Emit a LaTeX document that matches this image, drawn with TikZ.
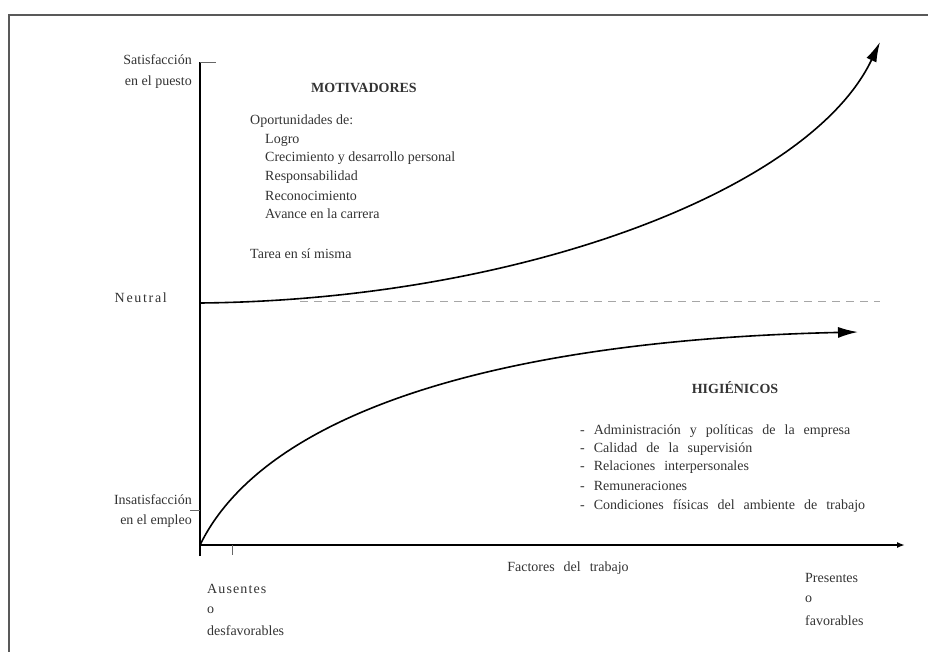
\documentclass[tikz,border=0pt]{standalone}
\usepackage{fontspec}
\setmainfont{Liberation Serif}
\usetikzlibrary{arrows.meta}
\newcommand\widesp{\spaceskip=9pt plus 1pt\relax}
\newcommand\bodyfnt{\fontsize{14}{16}\selectfont}

\begin{document}
\begin{tikzpicture}[x=1pt, y=-1pt, font=\bodyfnt,
  txt/.style={text=black!80, inner sep=0pt},
  wide/.style={font=\bodyfnt\widesp},
  axis/.style={line width=1.8pt},
  curve/.style={line width=1.6pt, -{Latex[length=20pt, width=11pt]}}]
\useasboundingbox (0,0) rectangle (928,652);
\draw[line width=1.3pt, black!65] (9,670) -- (9,15) -- (945,15);

% ejes
\coordinate (o) at (200,545);
\coordinate (yt) at (200,62);
\coordinate (yb) at (200,556);
\coordinate (xe) at (905,545);
\coordinate (neu) at (200,303);
\coordinate (ins) at (200,510);
\draw[axis] (yb) -- (yt);
\draw[axis, -{Latex[length=8pt, width=6pt]}] (o) -- (xe);
\draw[thin, black!60] (yt) -- ++(16,0);
\draw[thin, black!60] (ins) -- ++(-10,0);
\draw[thin, black!60] (232,545) -- ++(0,10);

% etiquetas de los ejes
\node (sat) at (192,60) [txt, anchor=east] {Satisfacción};
\node (sat2) at (192,82) [txt, anchor=east] {en el puesto};
\node (neutral) at (167,298) [txt, anchor=east, font=\bodyfnt\addfontfeatures{LetterSpace=12}] {Neutral};
\node (insat) at (192,500) [txt, anchor=east] {Insatisfacción};
\node (insat2) at (192,521) [txt, anchor=east] {en el empleo};
\node (fac) at (568,568) [txt, wide] {Factores del trabajo};
\node (aus) at (207,589) [txt, anchor=west, font=\bodyfnt\addfontfeatures{LetterSpace=8}] {Ausentes};
\node (aus2) at (207,610) [txt, anchor=west] {o};
\node (aus3) at (207,631) [txt, anchor=west] {desfavorables};
\node (pre) at (805,578) [txt, anchor=west] {Presentes};
\node (pre2) at (805,599) [txt, anchor=west] {o};
\node (pre3) at (805,621) [txt, anchor=west] {favorables};

% motivadores
\node (mot) at (364,88) [txt, font=\bodyfnt\bfseries] {MOTIVADORES};
\node (op) at (250,121) [txt, anchor=west] {Oportunidades de:};
\node (m1) at (265,140) [txt, anchor=west] {Logro};
\node (m2) at (265,158) [txt, anchor=west] {Crecimiento y desarrollo personal};
\node (m3) at (265,177) [txt, anchor=west] {Responsabilidad};
\node (m4) at (265,196) [txt, anchor=west] {Reconocimiento};
\node (m5) at (265,214) [txt, anchor=west] {Avance en la carrera};
\node (tar) at (250,254) [txt, anchor=west] {Tarea en sí misma};

% higienicos
\node (hig) at (735,388) [txt, font=\bodyfnt\bfseries] {HIGIÉNICOS};
\node (h1) at (580,431) [txt, anchor=west, wide] {- Administración y políticas de la empresa};
\node (h2) at (580,449) [txt, anchor=west, wide] {- Calidad de la supervisión};
\node (h3) at (580,467) [txt, anchor=west, wide] {- Relaciones interpersonales};
\node (h4) at (580,486) [txt, anchor=west, wide] {- Remuneraciones};
\node (h5) at (580,506) [txt, anchor=west, wide] {- Condiciones físicas del ambiente de trabajo};

% curvas
\coordinate (mtop) at (880,42);
\coordinate (hend) at (858,332);
\draw[black!35, line width=1pt, dash pattern=on 8pt off 6pt] (300,301) -- (880,301);
\draw[curve] (neu) .. controls (520,300) and (810,190) .. (mtop);
\draw[curve] (o) .. controls (265,412) and (500,340) .. (hend);
\end{tikzpicture}
\end{document}
